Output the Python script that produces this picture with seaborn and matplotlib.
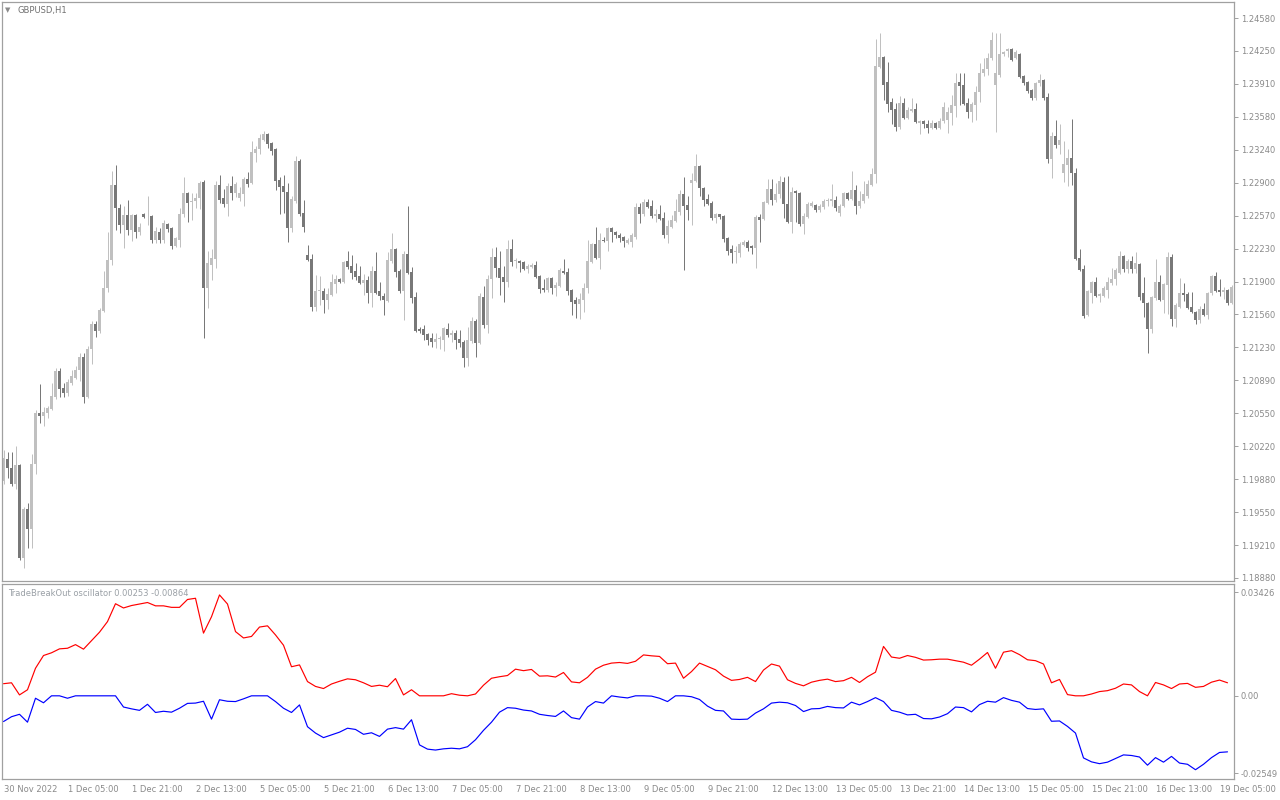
import matplotlib
matplotlib.use("Agg")
import matplotlib.pyplot as plt
import numpy as np
import pandas as pd
import seaborn as sns

# GBPUSD H1 candles, 30 Nov 2022 13:00 onwards (one value per bar)
open_price = [
    1.1987, 1.2009, 1.2000, 1.1984, 1.2003, 1.1908, 1.1958, 1.1938, 1.2004, 1.2056,
    1.2053, 1.2056, 1.2060, 1.2072, 1.2099, 1.2081, 1.2076, 1.2086, 1.2092, 1.2100,
    1.2113, 1.2072, 1.2121, 1.2147, 1.2139, 1.2160, 1.2183, 1.2212, 1.2288, 1.2265,
    1.2247, 1.2257, 1.2242, 1.2257, 1.2240, 1.2259, 1.2256, 1.2256, 1.2232, 1.2240,
    1.2232, 1.2248, 1.2244, 1.2226, 1.2232, 1.2259, 1.2280, 1.2271, 1.2272, 1.2275,
    1.2291, 1.2183, 1.2207, 1.2213, 1.2288, 1.2275, 1.2269, 1.2287, 1.2280, 1.2275,
    1.2279, 1.2294, 1.2290, 1.2321, 1.2325, 1.2334, 1.2340, 1.2331, 1.2325, 1.2293,
    1.2287, 1.2281, 1.2244, 1.2272, 1.2312, 1.2260, 1.2217, 1.2213, 1.2164, 1.2180,
    1.2180, 1.2171, 1.2176, 1.2187, 1.2192, 1.2189, 1.2211, 1.2206, 1.2200, 1.2195,
    1.2188, 1.2191, 1.2178, 1.2200, 1.2180, 1.2175, 1.2170, 1.2211, 1.2223, 1.2200,
    1.2180, 1.2218, 1.2199, 1.2174, 1.2141, 1.2141, 1.2136, 1.2132, 1.2128, 1.2131,
    1.2130, 1.2141, 1.2135, 1.2137, 1.2131, 1.2128, 1.2112, 1.2129, 1.2150, 1.2127,
    1.2174, 1.2146, 1.2192, 1.2215, 1.2204, 1.2194, 1.2189, 1.2223, 1.2211, 1.2211,
    1.2210, 1.2202, 1.2205, 1.2207, 1.2195, 1.2183, 1.2181, 1.2193, 1.2183, 1.2185,
    1.2200, 1.2199, 1.2181, 1.2171, 1.2167, 1.2171, 1.2183, 1.2210, 1.2228, 1.2214,
    1.2232, 1.2231, 1.2244, 1.2240, 1.2237, 1.2235, 1.2229, 1.2230, 1.2235, 1.2266,
    1.2259, 1.2271, 1.2267, 1.2256, 1.2258, 1.2254, 1.2237, 1.2245, 1.2251, 1.2261,
    1.2279, 1.2268, 1.2290, 1.2292, 1.2307, 1.2285, 1.2274, 1.2270, 1.2254, 1.2258,
    1.2256, 1.2234, 1.2223, 1.2220, 1.2219, 1.2227, 1.2230, 1.2226, 1.2224, 1.2255,
    1.2253, 1.2270, 1.2284, 1.2273, 1.2279, 1.2291, 1.2269, 1.2250, 1.2282, 1.2280,
    1.2248, 1.2255, 1.2267, 1.2268, 1.2263, 1.2266, 1.2272, 1.2272, 1.2273, 1.2260,
    1.2267, 1.2280, 1.2274, 1.2283, 1.2267, 1.2272, 1.2277, 1.2288, 1.2299, 1.2408,
    1.2418, 1.2393, 1.2372, 1.2365, 1.2347, 1.2371, 1.2356, 1.2363, 1.2365, 1.2351,
    1.2353, 1.2350, 1.2346, 1.2351, 1.2346, 1.2353, 1.2354, 1.2361, 1.2368, 1.2393,
    1.2390, 1.2371, 1.2362, 1.2369, 1.2383, 1.2402, 1.2406, 1.2417, 1.2390, 1.2400,
    1.2421, 1.2424, 1.2426, 1.2417, 1.2421, 1.2399, 1.2393, 1.2385, 1.2377, 1.2392,
    1.2395, 1.2378, 1.2314, 1.2338, 1.2329, 1.2300, 1.2308, 1.2315, 1.2300, 1.2214,
    1.2202, 1.2156, 1.2178, 1.2189, 1.2175, 1.2175, 1.2181, 1.2188, 1.2192, 1.2198,
    1.2216, 1.2202, 1.2211, 1.2202, 1.2208, 1.2178, 1.2168, 1.2141, 1.2173, 1.2189,
    1.2171, 1.2186, 1.2215, 1.2152, 1.2164, 1.2178, 1.2177, 1.2164, 1.2159, 1.2151,
    1.2162, 1.2156, 1.2178, 1.2195, 1.2181, 1.2179, 1.2181, 1.2168,
]
high_price = [
    1.2018, 1.2016, 1.2016, 1.2022, 1.2004, 1.1960, 1.1964, 1.2014, 1.2059, 1.2085,
    1.2062, 1.2063, 1.2086, 1.2102, 1.2102, 1.2086, 1.2091, 1.2100, 1.2104, 1.2117,
    1.2117, 1.2124, 1.2150, 1.2150, 1.2163, 1.2200, 1.2240, 1.2302, 1.2308, 1.2269,
    1.2267, 1.2273, 1.2259, 1.2259, 1.2249, 1.2260, 1.2277, 1.2257, 1.2245, 1.2244,
    1.2252, 1.2249, 1.2245, 1.2235, 1.2265, 1.2296, 1.2281, 1.2280, 1.2280, 1.2292,
    1.2293, 1.2221, 1.2223, 1.2292, 1.2298, 1.2284, 1.2290, 1.2297, 1.2291, 1.2286,
    1.2296, 1.2301, 1.2333, 1.2328, 1.2340, 1.2343, 1.2341, 1.2332, 1.2326, 1.2296,
    1.2298, 1.2290, 1.2277, 1.2318, 1.2314, 1.2273, 1.2227, 1.2218, 1.2196, 1.2195,
    1.2183, 1.2183, 1.2197, 1.2196, 1.2193, 1.2211, 1.2221, 1.2217, 1.2209, 1.2206,
    1.2197, 1.2195, 1.2206, 1.2220, 1.2189, 1.2178, 1.2220, 1.2239, 1.2224, 1.2203,
    1.2221, 1.2267, 1.2205, 1.2179, 1.2143, 1.2145, 1.2137, 1.2137, 1.2137, 1.2134,
    1.2143, 1.2148, 1.2140, 1.2140, 1.2140, 1.2130, 1.2143, 1.2154, 1.2152, 1.2178,
    1.2185, 1.2196, 1.2224, 1.2225, 1.2221, 1.2206, 1.2232, 1.2233, 1.2214, 1.2212,
    1.2211, 1.2208, 1.2209, 1.2211, 1.2196, 1.2192, 1.2194, 1.2194, 1.2189, 1.2204,
    1.2213, 1.2204, 1.2182, 1.2174, 1.2178, 1.2188, 1.2232, 1.2229, 1.2245, 1.2239,
    1.2235, 1.2245, 1.2245, 1.2241, 1.2239, 1.2236, 1.2234, 1.2239, 1.2270, 1.2270,
    1.2274, 1.2274, 1.2273, 1.2264, 1.2268, 1.2261, 1.2252, 1.2257, 1.2274, 1.2283,
    1.2296, 1.2277, 1.2300, 1.2320, 1.2308, 1.2286, 1.2279, 1.2272, 1.2260, 1.2259,
    1.2257, 1.2235, 1.2227, 1.2226, 1.2230, 1.2232, 1.2232, 1.2227, 1.2257, 1.2258,
    1.2272, 1.2294, 1.2294, 1.2290, 1.2297, 1.2296, 1.2297, 1.2286, 1.2283, 1.2281,
    1.2260, 1.2271, 1.2272, 1.2269, 1.2269, 1.2274, 1.2275, 1.2289, 1.2277, 1.2269,
    1.2281, 1.2281, 1.2302, 1.2288, 1.2282, 1.2292, 1.2293, 1.2305, 1.2437, 1.2443,
    1.2419, 1.2413, 1.2377, 1.2371, 1.2379, 1.2377, 1.2367, 1.2377, 1.2371, 1.2354,
    1.2354, 1.2354, 1.2354, 1.2352, 1.2356, 1.2373, 1.2367, 1.2380, 1.2402, 1.2402,
    1.2402, 1.2377, 1.2373, 1.2389, 1.2412, 1.2417, 1.2422, 1.2444, 1.2443, 1.2443,
    1.2424, 1.2427, 1.2427, 1.2425, 1.2422, 1.2400, 1.2394, 1.2386, 1.2393, 1.2401,
    1.2396, 1.2382, 1.2342, 1.2354, 1.2350, 1.2333, 1.2325, 1.2355, 1.2305, 1.2223,
    1.2207, 1.2181, 1.2190, 1.2194, 1.2178, 1.2185, 1.2194, 1.2204, 1.2204, 1.2221,
    1.2217, 1.2213, 1.2216, 1.2220, 1.2209, 1.2194, 1.2169, 1.2175, 1.2213, 1.2196,
    1.2188, 1.2220, 1.2218, 1.2168, 1.2193, 1.2188, 1.2179, 1.2179, 1.2160, 1.2165,
    1.2168, 1.2179, 1.2196, 1.2199, 1.2192, 1.2184, 1.2182, 1.2186,
]
low_price = [
    1.1984, 1.1990, 1.1982, 1.1979, 1.1906, 1.1898, 1.1918, 1.1918, 1.1994, 1.2046,
    1.2043, 1.2051, 1.2059, 1.2070, 1.2072, 1.2072, 1.2073, 1.2084, 1.2091, 1.2089,
    1.2066, 1.2071, 1.2106, 1.2133, 1.2137, 1.2159, 1.2179, 1.2207, 1.2242, 1.2239,
    1.2224, 1.2237, 1.2231, 1.2234, 1.2237, 1.2254, 1.2247, 1.2229, 1.2229, 1.2229,
    1.2229, 1.2240, 1.2223, 1.2225, 1.2225, 1.2255, 1.2250, 1.2252, 1.2265, 1.2264,
    1.2132, 1.2163, 1.2191, 1.2204, 1.2270, 1.2266, 1.2256, 1.2273, 1.2276, 1.2272,
    1.2267, 1.2286, 1.2289, 1.2311, 1.2320, 1.2333, 1.2326, 1.2319, 1.2283, 1.2259,
    1.2260, 1.2230, 1.2240, 1.2270, 1.2256, 1.2240, 1.2211, 1.2160, 1.2160, 1.2166,
    1.2158, 1.2162, 1.2175, 1.2178, 1.2188, 1.2188, 1.2203, 1.2192, 1.2191, 1.2187,
    1.2176, 1.2168, 1.2164, 1.2177, 1.2171, 1.2156, 1.2169, 1.2209, 1.2194, 1.2178,
    1.2151, 1.2197, 1.2168, 1.2138, 1.2137, 1.2130, 1.2125, 1.2123, 1.2122, 1.2121,
    1.2119, 1.2133, 1.2128, 1.2121, 1.2123, 1.2103, 1.2104, 1.2127, 1.2113, 1.2126,
    1.2142, 1.2137, 1.2173, 1.2194, 1.2176, 1.2169, 1.2184, 1.2206, 1.2204, 1.2199,
    1.2201, 1.2198, 1.2204, 1.2193, 1.2178, 1.2179, 1.2179, 1.2177, 1.2175, 1.2184,
    1.2197, 1.2176, 1.2156, 1.2153, 1.2152, 1.2159, 1.2178, 1.2209, 1.2213, 1.2203,
    1.2230, 1.2221, 1.2230, 1.2234, 1.2230, 1.2225, 1.2228, 1.2225, 1.2233, 1.2249,
    1.2256, 1.2265, 1.2254, 1.2250, 1.2252, 1.2234, 1.2229, 1.2244, 1.2250, 1.2257,
    1.2201, 1.2252, 1.2247, 1.2291, 1.2277, 1.2267, 1.2268, 1.2252, 1.2249, 1.2253,
    1.2230, 1.2217, 1.2209, 1.2209, 1.2215, 1.2226, 1.2221, 1.2218, 1.2204, 1.2230,
    1.2252, 1.2269, 1.2268, 1.2271, 1.2275, 1.2254, 1.2249, 1.2239, 1.2250, 1.2246,
    1.2238, 1.2254, 1.2266, 1.2261, 1.2261, 1.2264, 1.2267, 1.2267, 1.2262, 1.2256,
    1.2266, 1.2273, 1.2273, 1.2258, 1.2265, 1.2270, 1.2275, 1.2287, 1.2290, 1.2407,
    1.2375, 1.2362, 1.2350, 1.2343, 1.2345, 1.2355, 1.2355, 1.2362, 1.2351, 1.2340,
    1.2346, 1.2341, 1.2345, 1.2345, 1.2345, 1.2351, 1.2341, 1.2349, 1.2357, 1.2369,
    1.2369, 1.2356, 1.2352, 1.2354, 1.2372, 1.2399, 1.2400, 1.2415, 1.2342, 1.2398,
    1.2419, 1.2418, 1.2414, 1.2416, 1.2397, 1.2390, 1.2382, 1.2375, 1.2375, 1.2389,
    1.2375, 1.2310, 1.2295, 1.2326, 1.2320, 1.2291, 1.2287, 1.2288, 1.2212, 1.2200,
    1.2153, 1.2155, 1.2168, 1.2174, 1.2169, 1.2174, 1.2173, 1.2186, 1.2186, 1.2197,
    1.2199, 1.2198, 1.2198, 1.2198, 1.2171, 1.2154, 1.2117, 1.2137, 1.2171, 1.2170,
    1.2158, 1.2157, 1.2144, 1.2143, 1.2163, 1.2170, 1.2162, 1.2158, 1.2147, 1.2148,
    1.2155, 1.2152, 1.2176, 1.2179, 1.2175, 1.2172, 1.2166, 1.2167,
]
close_price = [
    1.2010, 1.2000, 1.1984, 1.2003, 1.1908, 1.1958, 1.1938, 1.2004, 1.2056, 1.2053,
    1.2057, 1.2061, 1.2073, 1.2099, 1.2080, 1.2076, 1.2087, 1.2094, 1.2100, 1.2113,
    1.2072, 1.2121, 1.2147, 1.2139, 1.2161, 1.2183, 1.2212, 1.2288, 1.2265, 1.2247,
    1.2257, 1.2242, 1.2257, 1.2240, 1.2245, 1.2255, 1.2256, 1.2232, 1.2241, 1.2232,
    1.2249, 1.2243, 1.2226, 1.2234, 1.2259, 1.2280, 1.2270, 1.2272, 1.2275, 1.2290,
    1.2183, 1.2209, 1.2214, 1.2288, 1.2273, 1.2269, 1.2287, 1.2280, 1.2289, 1.2280,
    1.2294, 1.2289, 1.2322, 1.2325, 1.2336, 1.2340, 1.2330, 1.2323, 1.2292, 1.2286,
    1.2281, 1.2244, 1.2274, 1.2312, 1.2259, 1.2245, 1.2212, 1.2164, 1.2180, 1.2180,
    1.2171, 1.2177, 1.2189, 1.2192, 1.2189, 1.2210, 1.2205, 1.2198, 1.2194, 1.2188,
    1.2191, 1.2178, 1.2200, 1.2178, 1.2175, 1.2171, 1.2212, 1.2223, 1.2199, 1.2180,
    1.2218, 1.2198, 1.2173, 1.2139, 1.2139, 1.2135, 1.2130, 1.2128, 1.2131, 1.2131,
    1.2142, 1.2135, 1.2137, 1.2130, 1.2127, 1.2112, 1.2130, 1.2150, 1.2127, 1.2175,
    1.2146, 1.2192, 1.2215, 1.2204, 1.2193, 1.2189, 1.2223, 1.2210, 1.2211, 1.2209,
    1.2202, 1.2206, 1.2207, 1.2194, 1.2182, 1.2181, 1.2193, 1.2183, 1.2186, 1.2201,
    1.2198, 1.2180, 1.2169, 1.2167, 1.2172, 1.2183, 1.2211, 1.2228, 1.2214, 1.2232,
    1.2231, 1.2244, 1.2240, 1.2237, 1.2234, 1.2231, 1.2232, 1.2237, 1.2266, 1.2258,
    1.2271, 1.2266, 1.2256, 1.2258, 1.2253, 1.2237, 1.2246, 1.2252, 1.2262, 1.2279,
    1.2267, 1.2263, 1.2293, 1.2307, 1.2285, 1.2273, 1.2269, 1.2254, 1.2259, 1.2255,
    1.2233, 1.2221, 1.2219, 1.2220, 1.2228, 1.2230, 1.2224, 1.2224, 1.2255, 1.2252,
    1.2271, 1.2284, 1.2273, 1.2279, 1.2292, 1.2269, 1.2250, 1.2281, 1.2280, 1.2248,
    1.2256, 1.2269, 1.2270, 1.2263, 1.2267, 1.2272, 1.2273, 1.2274, 1.2265, 1.2267,
    1.2280, 1.2274, 1.2283, 1.2267, 1.2272, 1.2279, 1.2289, 1.2299, 1.2409, 1.2418,
    1.2390, 1.2370, 1.2364, 1.2347, 1.2371, 1.2356, 1.2364, 1.2365, 1.2352, 1.2353,
    1.2350, 1.2346, 1.2351, 1.2346, 1.2353, 1.2367, 1.2362, 1.2369, 1.2392, 1.2389,
    1.2370, 1.2362, 1.2370, 1.2383, 1.2402, 1.2406, 1.2417, 1.2436, 1.2402, 1.2421,
    1.2423, 1.2426, 1.2415, 1.2423, 1.2398, 1.2392, 1.2384, 1.2377, 1.2392, 1.2395,
    1.2377, 1.2314, 1.2338, 1.2329, 1.2334, 1.2309, 1.2315, 1.2300, 1.2213, 1.2201,
    1.2155, 1.2180, 1.2189, 1.2175, 1.2177, 1.2183, 1.2189, 1.2192, 1.2201, 1.2216,
    1.2202, 1.2211, 1.2203, 1.2209, 1.2174, 1.2168, 1.2141, 1.2174, 1.2189, 1.2171,
    1.2187, 1.2215, 1.2152, 1.2166, 1.2178, 1.2176, 1.2163, 1.2159, 1.2151, 1.2162,
    1.2156, 1.2178, 1.2195, 1.2180, 1.2179, 1.2181, 1.2168, 1.2184,
]

# TradeBreakOut oscillator, read every second bar
osc_red = [
    0.0040, 0.0043, 0.0003, 0.0020, 0.0091, 0.0133, 0.0142, 0.0155, 0.0157, 0.0169,
    0.0154, 0.0182, 0.0210, 0.0245, 0.0304, 0.0290, 0.0298, 0.0303, 0.0308, 0.0297,
    0.0297, 0.0292, 0.0292, 0.0318, 0.0322, 0.0207, 0.0261, 0.0333, 0.0303, 0.0212,
    0.0191, 0.0196, 0.0227, 0.0231, 0.0201, 0.0167, 0.0096, 0.0102, 0.0047, 0.0031,
    0.0024, 0.0039, 0.0048, 0.0056, 0.0053, 0.0043, 0.0031, 0.0035, 0.0030, 0.0057,
    0.0003, 0.0020, 0.0000, 0.0000, 0.0000, 0.0000, 0.0007, 0.0002, 0.0000, 0.0006,
    0.0035, 0.0058, 0.0063, 0.0067, 0.0088, 0.0083, 0.0087, 0.0065, 0.0066, 0.0062,
    0.0077, 0.0046, 0.0043, 0.0061, 0.0088, 0.0101, 0.0108, 0.0110, 0.0107, 0.0114,
    0.0135, 0.0132, 0.0130, 0.0106, 0.0108, 0.0058, 0.0080, 0.0108, 0.0097, 0.0086,
    0.0065, 0.0051, 0.0054, 0.0061, 0.0047, 0.0085, 0.0105, 0.0098, 0.0053, 0.0041,
    0.0033, 0.0045, 0.0051, 0.0055, 0.0047, 0.0050, 0.0061, 0.0044, 0.0063, 0.0078,
    0.0163, 0.0128, 0.0124, 0.0133, 0.0127, 0.0118, 0.0119, 0.0121, 0.0121, 0.0116,
    0.0111, 0.0101, 0.0121, 0.0143, 0.0091, 0.0144, 0.0149, 0.0136, 0.0119, 0.0116,
    0.0105, 0.0043, 0.0054, 0.0004, 0.0000, 0.0000, 0.0006, 0.0014, 0.0017, 0.0025,
    0.0039, 0.0036, 0.0014, 0.0000, 0.0044, 0.0036, 0.0024, 0.0039, 0.0041, 0.0028,
    0.0031, 0.0045, 0.0052, 0.0043,
]
osc_blue = [
    -0.0085, -0.0069, -0.0061, -0.0087, -0.0008, -0.0023, 0.0000, 0.0000, -0.0008, 0.0000,
    0.0000, 0.0000, 0.0000, 0.0000, 0.0000, -0.0037, -0.0043, -0.0048, -0.0028, -0.0055,
    -0.0051, -0.0054, -0.0041, -0.0025, -0.0024, -0.0018, -0.0077, -0.0013, -0.0018, -0.0019,
    -0.0010, 0.0000, 0.0000, 0.0000, -0.0019, -0.0041, -0.0055, -0.0030, -0.0102, -0.0123,
    -0.0138, -0.0129, -0.0120, -0.0107, -0.0111, -0.0127, -0.0122, -0.0134, -0.0110, -0.0105,
    -0.0110, -0.0079, -0.0162, -0.0176, -0.0179, -0.0175, -0.0173, -0.0175, -0.0168, -0.0145,
    -0.0114, -0.0087, -0.0054, -0.0039, -0.0041, -0.0047, -0.0050, -0.0061, -0.0065, -0.0068,
    -0.0050, -0.0072, -0.0077, -0.0037, -0.0019, -0.0024, 0.0000, -0.0004, -0.0007, 0.0000,
    0.0000, -0.0001, -0.0008, -0.0019, 0.0000, 0.0000, -0.0003, -0.0012, -0.0034, -0.0048,
    -0.0050, -0.0077, -0.0078, -0.0077, -0.0057, -0.0043, -0.0024, -0.0021, -0.0023, -0.0032,
    -0.0052, -0.0043, -0.0042, -0.0035, -0.0039, -0.0040, -0.0021, -0.0030, -0.0019, -0.0006,
    -0.0019, -0.0048, -0.0054, -0.0063, -0.0061, -0.0075, -0.0076, -0.0070, -0.0059, -0.0037,
    -0.0039, -0.0053, -0.0029, -0.0018, -0.0021, -0.0006, -0.0015, -0.0021, -0.0042, -0.0045,
    -0.0043, -0.0084, -0.0083, -0.0101, -0.0123, -0.0205, -0.0218, -0.0224, -0.0219, -0.0207,
    -0.0195, -0.0197, -0.0202, -0.0229, -0.0204, -0.0219, -0.0200, -0.0222, -0.0226, -0.0244,
    -0.0226, -0.0204, -0.0187, -0.0185,
]

price_ticks = [1.1888, 1.2458]
price_labels = ["1.18880", "1.19210", "1.19550", "1.19880", "1.20220", "1.20550",
                "1.20890", "1.21230", "1.21560", "1.21900", "1.22230", "1.22570",
                "1.22900", "1.23240", "1.23580", "1.23910", "1.24250", "1.24580"]
osc_ticks = [0.03426, 0.0, -0.02549]
osc_labels = ["0.03426", "0.00", "-0.02549"]
date_labels = ["30 Nov 2022", "1 Dec 05:00", "1 Dec 21:00", "2 Dec 13:00", "5 Dec 05:00",
               "5 Dec 21:00", "6 Dec 13:00", "7 Dec 05:00", "7 Dec 21:00", "8 Dec 13:00",
               "9 Dec 05:00", "9 Dec 21:00", "12 Dec 13:00", "13 Dec 05:00", "13 Dec 21:00",
               "14 Dec 13:00", "15 Dec 05:00", "15 Dec 21:00", "16 Dec 13:00", "19 Dec 05:00"]

BULL = "#c0c0c0"
BEAR = "#787878"
FRAME = "#a0a0a0"
TEXT = "#8a8a8a"

sns.set_style("white")
plt.rcParams["font.family"] = ["DejaVu Sans"]

W, H = 1280, 800
fig = plt.figure(figsize=(W / 100, H / 100), dpi=100)
fig.patch.set_facecolor("white")

ax = fig.add_axes([2 / W, 1 - 581 / H, 1232 / W, 579 / H])
osc_ax = fig.add_axes([2 / W, 1 - 779 / H, 1232 / W, 195 / H])

bars = pd.DataFrame({"open": open_price, "high": high_price,
                     "low": low_price, "close": close_price})
bars["bar"] = np.arange(len(bars))
colors = np.where(bars["close"] >= bars["open"], BULL, BEAR)

body_low = np.minimum(bars["open"], bars["close"])
body_h = np.maximum((bars["close"] - bars["open"]).abs(), 0.00009)

# 4 px per bar; offset the range so each bar sits on a pixel centre
x_lo = -0.375
x_hi = x_lo + 1232 / 4

ax.vlines(bars["bar"], bars["low"], bars["high"], colors=colors, lw=0.72)
ax.bar(bars["bar"], body_h, bottom=body_low, width=0.75, color=colors, linewidth=0)

ax.set_xlim(x_lo, x_hi)
ax.set_ylim(1.18849, 1.24743)
ax.set_xticks([])
ax.yaxis.tick_right()
ax.set_yticks(np.linspace(price_ticks[0], price_ticks[1], len(price_labels)))
ax.set_yticklabels(price_labels)

# oscillator pane
osc = pd.DataFrame({"bar": np.arange(0, len(bars), 2), "up": osc_red, "down": osc_blue})
sns.lineplot(data=osc, x="bar", y="up", color="#ff0000", lw=0.85, ax=osc_ax)
sns.lineplot(data=osc, x="bar", y="down", color="#0000ff", lw=0.85, ax=osc_ax)
osc_ax.set_xlim(x_lo, x_hi)
osc_ax.set_ylim(-0.02746, 0.03691)
osc_ax.set_xlabel("")
osc_ax.set_ylabel("")
osc_ax.yaxis.tick_right()
osc_ax.set_yticks(osc_ticks)
osc_ax.set_yticklabels(osc_labels)
osc_ax.set_xticks(np.arange(len(date_labels)) * 16)
osc_ax.set_xticklabels(date_labels, ha="left")

for a in (ax, osc_ax):
    a.set_facecolor("white")
    for s in a.spines.values():
        s.set_color(FRAME)
        s.set_linewidth(0.9)
    a.tick_params(axis="y", direction="out", length=3, width=0.7, color=FRAME,
                  labelsize=6, labelcolor=TEXT, pad=2, right=True, left=False)
    a.tick_params(axis="x", direction="out", length=3, width=0.7, color=FRAME,
                  labelsize=6, labelcolor=TEXT, pad=1.5)

fig.text(5 / W, 1 - 10 / H, "\u25bc", fontsize=5, color="#8a8a8a", va="center")
fig.text(18 / W, 1 - 10 / H, "GBPUSD,H1", fontsize=6, color="#707070", va="center")
fig.text(8 / W, 1 - 594 / H, "TradeBreakOut oscillator 0.00253 -0.00864",
         fontsize=6, color="#9aa0a6", va="center")

fig.savefig("out.png", dpi=100, facecolor="white")
